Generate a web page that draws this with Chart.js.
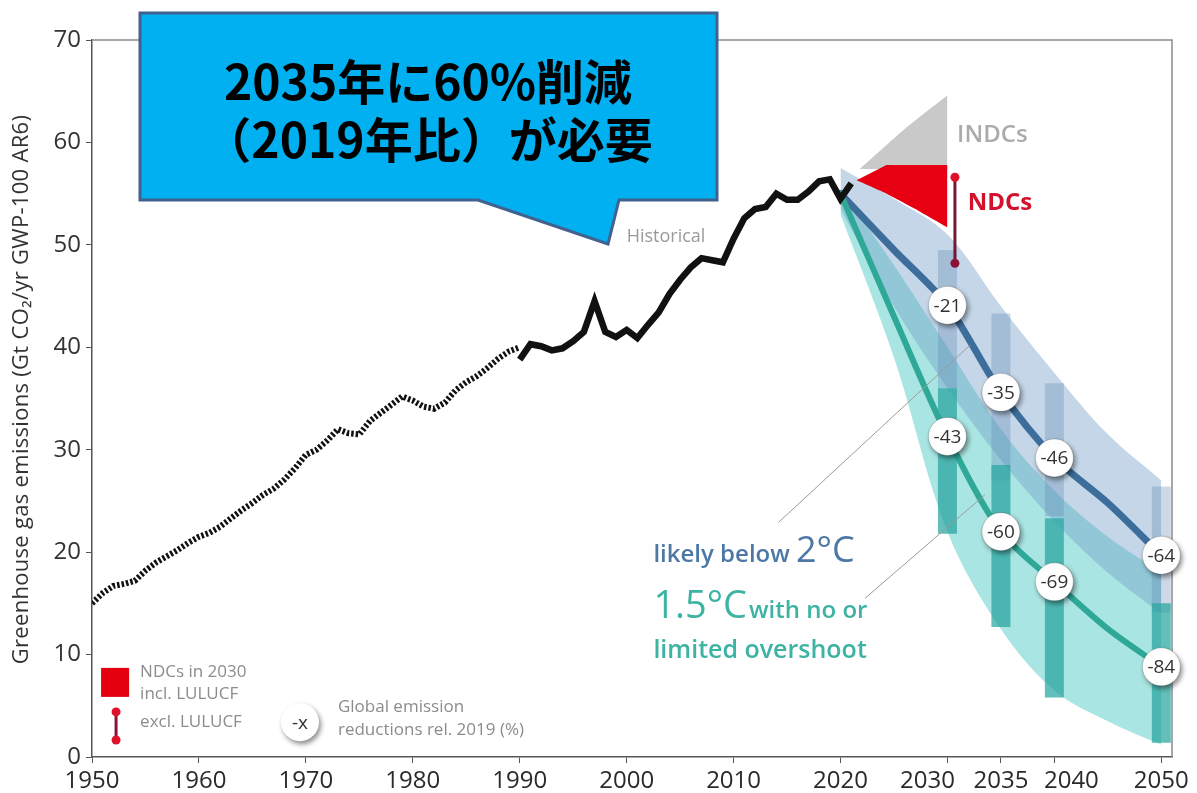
<!DOCTYPE html>
<html>
<head>
<meta charset="utf-8">
<script src="https://cdn.jsdelivr.net/npm/chart.js@4.4.0/dist/chart.umd.min.js"></script>
<style>
  html, body { margin: 0; padding: 0; background: #fff; }
</style>
</head>
<body>
<canvas id="canvas" width="1197" height="793"></canvas>
<script>
// historical emissions, Gt CO2-eq/yr
var earlyYears = [1950, 1951, 1952, 1953, 1954, 1955, 1956, 1957, 1958, 1959, 1960, 1961, 1962, 1963, 1964, 1965, 1966, 1967, 1968, 1969,
  1970, 1971, 1972, 1973, 1974, 1975, 1976, 1977, 1978, 1979, 1980, 1981, 1982, 1983, 1984, 1985, 1986, 1987, 1988, 1989, 1990];
var earlyValues = [15.0, 16.0, 16.7, 16.9, 17.2, 18.2, 19.0, 19.6, 20.2, 20.9, 21.5, 21.9, 22.5, 23.3, 24.1, 24.8, 25.6, 26.2, 27.1, 28.2,
  29.5, 30.0, 30.9, 32.0, 31.6, 31.5, 32.8, 33.6, 34.4, 35.2, 34.8, 34.2, 34.0, 34.6, 35.8, 36.6, 37.2, 38.0, 38.9, 39.6, 40.0];
var histYears = [1990, 1991, 1992, 1993, 1994, 1995, 1996, 1997, 1998, 1999, 2000, 2001, 2002, 2003, 2004, 2005, 2006, 2007, 2008, 2009,
  2010, 2011, 2012, 2013, 2014, 2015, 2016, 2017, 2018, 2019, 2020, 2021];
var histValues = [38.8, 40.3, 40.1, 39.7, 39.9, 40.6, 41.5, 44.5, 41.5, 41.0, 41.7, 40.9, 42.2, 43.4, 45.2, 46.6, 47.8, 48.7, 48.5, 48.3,
  50.6, 52.6, 53.5, 53.7, 55.0, 54.4, 54.4, 55.2, 56.2, 56.4, 54.5, 56.0];

// scenario pathways
var scenYears = [2020, 2025, 2030, 2035, 2040, 2045, 2050];
var below2Median = [55.0, 49.5, 44.1, 35.6, 29.2, 24.8, 19.7];
var below2Upper = [57.5, 54.5, 51.0, 44.0, 37.5, 31.5, 27.0];
var below2Lower = [53.5, 44.0, 36.0, 29.0, 23.0, 18.0, 14.0];
var c15Median = [55.0, 43.0, 31.3, 22.0, 17.1, 12.5, 8.8];
var c15Upper = [55.5, 48.0, 40.0, 32.0, 26.0, 21.5, 18.0];
var c15Lower = [53.0, 39.0, 22.0, 12.5, 6.5, 3.5, 1.2];

// interquartile boxes
var boxYears = [2030, 2035, 2040, 2050];
var below2Box = [[36.0, 49.5], [27.0, 43.3], [23.5, 36.5], [14.1, 26.4]];
var c15Box = [[21.8, 36.0], [12.7, 28.5], [5.8, 23.3], [1.4, 15.0]];

// reductions relative to 2019 (%)
var below2Reduction = [-21, -35, -46, -64];
var c15Reduction = [-43, -60, -69, -84];

// NDC / INDC ranges in 2030
var indcYears = [2021.8, 2026, 2030];
var indcUpper = [57.4, 61.3, 64.6];
var indcLower = [57.4, 57.4, 57.4];
var ndcYears = [2021.5, 2024.3, 2027, 2030];
var ndcUpper = [56.3, 57.8, 57.8, 57.8];
var ndcLower = [56.3, 55.0, 53.5, 51.7];
var exclYear = 2030.7;
var exclRange = [56.6, 48.2];

var xTicks = [1950, 1960, 1970, 1980, 1990, 2000, 2010, 2020, 2030, 2035, 2040, 2050];
var xLabelShift = { 2030: -20, 2040: 17 };

function pts(xs, ys) { return xs.map(function (x, i) { return { x: x, y: ys[i] }; }); }
function boxPts(xs, rs) { return xs.map(function (x, i) { return { x: x, y: rs[i] }; }); }
function pick(xs, ys, keep) {
  var out = [];
  xs.forEach(function (x, i) { if (keep.indexOf(x) >= 0) out.push({ x: x, y: ys[i] }); });
  return out;
}

var FONT = '"Open Sans", "Noto Sans", sans-serif';

function put(ctx, s, x, y, font, color, align, base) {
  ctx.font = font;
  ctx.fillStyle = color;
  ctx.textAlign = align || 'left';
  ctx.textBaseline = base || 'middle';
  ctx.fillText(s, x, y);
}

function shadowCircle(ctx, x, y, r) {
  ctx.save();
  ctx.shadowColor = 'rgba(0,0,0,0.45)';
  ctx.shadowBlur = 5;
  ctx.shadowOffsetX = 2;
  ctx.shadowOffsetY = 3;
  ctx.beginPath();
  ctx.arc(x, y, r, 0, Math.PI * 2);
  ctx.fillStyle = '#fff';
  ctx.fill();
  ctx.restore();
}

var decor = {
  id: 'decor',
  beforeDatasetDraw: function (chart, args) {
    if (chart.data.datasets[args.index].shadow) {
      var ctx = chart.ctx;
      ctx.save();
      ctx.shadowColor = 'rgba(0,0,0,0.45)';
      ctx.shadowBlur = 5;
      ctx.shadowOffsetX = 2;
      ctx.shadowOffsetY = 3;
    }
  },
  afterDatasetDraw: function (chart, args) {
    if (chart.data.datasets[args.index].shadow) chart.ctx.restore();
  },
  beforeDatasetsDraw: function (chart) {
    var ctx = chart.ctx, a = chart.chartArea;
    ctx.save();
    ctx.strokeStyle = '#8a8a8a';
    ctx.lineWidth = 1.5;
    ctx.beginPath();
    ctx.moveTo(a.left, a.top);
    ctx.lineTo(a.right, a.top);
    ctx.lineTo(a.right, a.bottom);
    ctx.stroke();
    ctx.restore();
  },
  afterDatasetsDraw: function (chart) {
    var ctx = chart.ctx, xs = chart.scales.x, ys = chart.scales.y, a = chart.chartArea;
    function P(x, y) { return { x: xs.getPixelForValue(x), y: ys.getPixelForValue(y) }; }
    ctx.save();

    // reduction labels inside circles
    chart.data.datasets.forEach(function (ds, i) {
      if (!ds.reductions) return;
      chart.getDatasetMeta(i).data.forEach(function (pt, j) {
        put(ctx, String(ds.reductions[j]), pt.x, pt.y + 1, '19px ' + FONT, '#333', 'center');
      });
    });

    // leader lines
    ctx.strokeStyle = '#9a9a9a';
    ctx.lineWidth = 1;
    [[2014.2, 22.9, 2032.1, 40.2], [2022.3, 15.5, 2033.5, 25.6]].forEach(function (l) {
      var p1 = P(l[0], l[1]), p2 = P(l[2], l[3]);
      ctx.beginPath(); ctx.moveTo(p1.x, p1.y); ctx.lineTo(p2.x, p2.y); ctx.stroke();
    });

    // series labels
    var p = P(2000.0, 50.8);
    put(ctx, 'Historical', p.x, p.y, '18px ' + FONT, '#9a9a9a');
    p = P(2030.9, 60.7);
    put(ctx, 'INDCs', p.x, p.y, '600 24px ' + FONT, '#ababab');
    p = P(2031.9, 54.1);
    put(ctx, 'NDCs', p.x, p.y, 'bold 24px ' + FONT, '#d4112c');

    p = P(2002.5, 19.0);
    ctx.font = '600 24px ' + FONT;
    var w = ctx.measureText('likely below ').width;
    put(ctx, 'likely below', p.x, p.y, '600 24px ' + FONT, '#4d78a6', 'left', 'alphabetic');
    put(ctx, '2°C', p.x + w, p.y, '36px ' + FONT, '#4d78a6', 'left', 'alphabetic');

    p = P(2002.5, 13.6);
    ctx.font = '38px ' + FONT;
    w = ctx.measureText('1.5°C').width;
    put(ctx, '1.5°C', p.x, p.y, '38px ' + FONT, '#3db3a3', 'left', 'alphabetic');
    put(ctx, 'with no or', p.x + w + 2, p.y, '600 24px ' + FONT, '#3db3a3', 'left', 'alphabetic');
    p = P(2002.5, 9.7);
    put(ctx, 'limited overshoot', p.x, p.y, '600 25px ' + FONT, '#3db3a3', 'left', 'alphabetic');

    // legend: NDC square
    p = P(1950.85, 8.7);
    ctx.fillStyle = '#e4000f';
    ctx.fillRect(p.x, p.y, 28, 29);
    p = P(1954.5, 8.3);
    put(ctx, 'NDCs in 2030', p.x, p.y, '17px ' + FONT, '#8c8c8c');
    p = P(1954.5, 6.15);
    put(ctx, 'incl. LULUCF', p.x, p.y, '17px ' + FONT, '#8c8c8c');
    p = P(1954.5, 3.4);
    put(ctx, 'excl. LULUCF', p.x, p.y, '17px ' + FONT, '#8c8c8c');
    // legend: error bar icon
    var t = P(1952.25, 4.4), b = P(1952.25, 1.66);
    ctx.strokeStyle = '#8a1236'; ctx.lineWidth = 3;
    ctx.beginPath(); ctx.moveTo(t.x, t.y); ctx.lineTo(b.x, b.y); ctx.stroke();
    ctx.fillStyle = '#e0102a';
    ctx.beginPath(); ctx.arc(t.x, t.y, 4.5, 0, Math.PI * 2); ctx.fill();
    ctx.beginPath(); ctx.arc(b.x, b.y, 4.5, 0, Math.PI * 2); ctx.fill();
    // legend: reduction circle
    p = P(1969.45, 3.4);
    shadowCircle(ctx, p.x, p.y, 19);
    put(ctx, '-x', p.x, p.y + 1, '19px ' + FONT, '#333', 'center');
    p = P(1973.0, 4.9);
    put(ctx, 'Global emission', p.x, p.y, '17px ' + FONT, '#8c8c8c');
    p = P(1973.0, 2.6);
    put(ctx, 'reductions rel. 2019 (%)', p.x, p.y, '17px ' + FONT, '#8c8c8c');

    // x tick labels (shifted where crowded, as in the source)
    xTicks.forEach(function (v) {
      var x = xs.getPixelForValue(v) + (xLabelShift[v] || 0);
      put(ctx, String(v), x, a.bottom + 24, '24px ' + FONT, '#2a2a2a', 'center');
    });
    ctx.restore();
  },
  afterDraw: function (chart) {
    var ctx = chart.ctx, a = chart.chartArea;
    ctx.save();
    // y axis title
    ctx.translate(22, (a.top + a.bottom) / 2 - 9);
    ctx.rotate(-Math.PI / 2);
    ctx.letterSpacing = '0.3px';
    put(ctx, 'Greenhouse gas emissions (Gt CO₂/yr GWP-100 AR6)', 0, 0, '22px ' + FONT, '#333', 'center');
    ctx.restore();

    // callout
    ctx.save();
    ctx.beginPath();
    ctx.moveTo(140, 13);
    ctx.lineTo(717, 13);
    ctx.lineTo(717, 200);
    ctx.lineTo(619, 200);
    ctx.lineTo(608, 244);
    ctx.lineTo(478, 200);
    ctx.lineTo(140, 200);
    ctx.closePath();
    ctx.fillStyle = '#00b0f0';
    ctx.fill();
    ctx.lineWidth = 3;
    ctx.strokeStyle = '#41618f';
    ctx.stroke();
    var jp = 'bold 48px "Noto Sans CJK JP", sans-serif';
    put(ctx, '2035年に60%削減', 428, 82, jp, '#000', 'center');
    put(ctx, '（2019年比）が必要', 428, 140, jp, '#000', 'center');
    ctx.restore();
  }
};

var ctx = document.getElementById('canvas').getContext('2d');
window.myChart = new Chart(ctx, {
  type: 'line',
  data: {
    datasets: [
      { label: '1.5C lower', data: pts(scenYears, c15Lower), borderWidth: 0, pointRadius: 0, fill: false, tension: 0.35, order: 21 },
      { label: '1.5C range', data: pts(scenYears, c15Upper), borderWidth: 0, pointRadius: 0, fill: '-1', tension: 0.35,
        backgroundColor: 'rgba(50,192,185,0.42)', order: 21 },
      { label: '2C lower', data: pts(scenYears, below2Lower), borderWidth: 0, pointRadius: 0, fill: false, tension: 0.35, order: 20 },
      { label: '2C range', data: pts(scenYears, below2Upper), borderWidth: 0, pointRadius: 0, fill: '-1', tension: 0.35,
        backgroundColor: 'rgba(115,158,200,0.42)', order: 20 },
      { type: 'bar', label: '2C box', data: boxPts(boxYears, below2Box), grouped: false, maxBarThickness: 19,
        backgroundColor: 'rgba(90,130,175,0.3)', borderWidth: 0, order: 18 },
      { type: 'bar', label: '1.5C box', data: boxPts(boxYears, c15Box), grouped: false, maxBarThickness: 19,
        backgroundColor: 'rgba(40,165,160,0.72)', borderWidth: 0, order: 17 },
      { label: 'INDC base', data: pts(indcYears, indcLower), borderWidth: 0, pointRadius: 0, fill: false, order: 16 },
      { label: 'INDCs', data: pts(indcYears, indcUpper), borderWidth: 0, pointRadius: 0, fill: '-1', tension: 0.2,
        backgroundColor: '#c9c9c9', order: 16 },
      { label: 'NDC lower', data: pts(ndcYears, ndcLower), borderWidth: 0, pointRadius: 0, fill: false, tension: 0.15, order: 15 },
      { label: 'NDCs', data: pts(ndcYears, ndcUpper), borderWidth: 0, pointRadius: 0, fill: '-1', tension: 0,
        backgroundColor: '#e60012', order: 15 },
      { label: '2C median', data: pts(scenYears, below2Median), borderColor: '#3d6d9a', borderWidth: 7, pointRadius: 0,
        tension: 0.3, borderCapStyle: 'round', order: 10 },
      { label: '1.5C median', data: pts(scenYears, c15Median), borderColor: '#2fa898', borderWidth: 6, pointRadius: 0,
        tension: 0.3, borderCapStyle: 'round', order: 9 },
      { label: 'Historical (early)', data: pts(earlyYears, earlyValues), borderColor: '#111', borderWidth: 6, pointRadius: 0,
        borderDash: [2.5, 2], tension: 0, order: 8 },
      { label: 'Historical', data: pts(histYears, histValues), borderColor: '#111', borderWidth: 6.5, pointRadius: 0,
        tension: 0, borderJoinStyle: 'miter', order: 7 },
      { label: 'excl. LULUCF', data: [{ x: exclYear, y: exclRange[0] }, { x: exclYear, y: exclRange[1] }],
        borderColor: '#7a1535', borderWidth: 3, pointRadius: 4.5, pointBorderWidth: 0,
        pointBackgroundColor: ['#e0102a', '#8a1236'], order: 6 },
      { label: '2C reductions', data: pick(scenYears, below2Median, boxYears), showLine: false, pointRadius: 19,
        pointBackgroundColor: '#fff', pointBorderColor: 'rgba(0,0,0,0.18)', pointBorderWidth: 1, clip: false,
        shadow: true, reductions: below2Reduction, order: 2 },
      { label: '1.5C reductions', data: pick(scenYears, c15Median, boxYears), showLine: false, pointRadius: 19,
        pointBackgroundColor: '#fff', pointBorderColor: 'rgba(0,0,0,0.18)', pointBorderWidth: 1, clip: false,
        shadow: true, reductions: c15Reduction, order: 1 }
    ]
  },
  options: {
    responsive: false,
    animation: false,
    layout: { padding: { top: 40, right: 25, left: 0, bottom: 0 } },
    plugins: { legend: { display: false }, tooltip: { enabled: false } },
    scales: {
      x: {
        type: 'linear', min: 1950, max: 2051, offset: false,
        afterBuildTicks: function (scale) { scale.ticks = xTicks.map(function (v) { return { value: v }; }); },
        afterFit: function (scale) { scale.height = 36; },
        ticks: { display: false },
        grid: { offset: false, drawOnChartArea: false, drawTicks: true, tickLength: 6, color: '#555' },
        border: { color: '#555', width: 1.5 }
      },
      y: {
        min: 0, max: 70,
        afterFit: function (scale) { scale.width = 92; },
        ticks: { stepSize: 10, padding: 5, color: '#333', font: { family: FONT, size: 24 } },
        grid: { drawOnChartArea: false, drawTicks: true, tickLength: 6, color: '#555' },
        border: { color: '#555', width: 1.5 }
      }
    }
  },
  plugins: [decor]
});
</script>
</body>
</html>
